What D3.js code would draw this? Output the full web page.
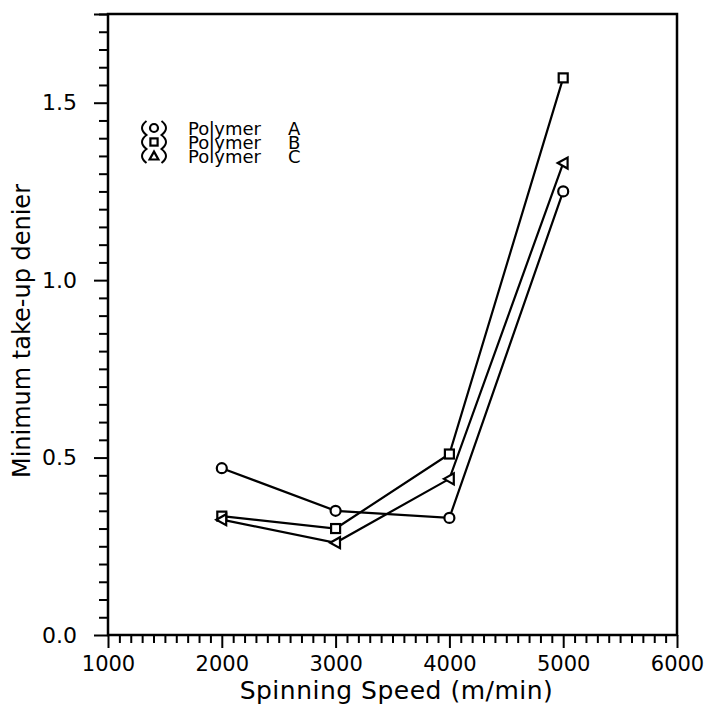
<!DOCTYPE html>
<html>
<head>
<meta charset="utf-8">
<script src="https://cdn.jsdelivr.net/npm/d3@7"></script>
<style>
  body { margin: 0; background: #fff; }
  svg { display: block; }
  text { font-family: "DejaVu Sans", sans-serif; fill: #000; }
</style>
</head>
<body>
<svg id="chart" width="707" height="705"></svg>
<script>
// values
const speeds = [2000, 3000, 4000, 5000];
const polymerA = [0.47, 0.35, 0.33, 1.25];
const polymerB = [0.335, 0.30, 0.51, 1.57];
const polymerC = [0.325, 0.26, 0.44, 1.33];
const seriesNames = ["Polymer A", "Polymer B", "Polymer C"];
const seriesLetters = ["A", "B", "C"];
const seriesShapes = ["circle", "square", "triangle"];
const xMajorTicks = [1000, 2000, 3000, 4000, 5000, 6000];
const yMajorTicks = [0.0, 0.5, 1.0, 1.5];

const svg = d3.select("#chart");

const plotLeft = 108, plotRight = 677, plotTop = 14, plotBottom = 635;

const x = d3.scaleLinear().domain([1000, 6000]).range([plotLeft, plotRight]);
const y = d3.scaleLinear().domain([0, 1.75]).range([plotBottom, plotTop]);

// minor tick positions (100 m/min, 0.05 denier)
const xMinor = d3.range(1000, 6001, 100).filter(v => v % 1000 !== 0);
const yMinor = d3.range(0, 36).map(i => +(i * 0.05).toFixed(2)).filter(v => Math.round(v * 100) % 50 !== 0);

function styleAxis(g) {
  g.select(".domain").remove();
  g.selectAll(".tick line").attr("stroke", "#000").attr("stroke-width", 2);
}

svg.append("g")
   .attr("transform", `translate(0, ${plotBottom})`)
   .call(d3.axisBottom(x).tickValues(xMinor).tickSize(8).tickFormat(""))
   .call(styleAxis);

svg.append("g")
   .attr("transform", `translate(0, ${plotBottom})`)
   .call(d3.axisBottom(x).tickValues(xMajorTicks).tickSize(13).tickPadding(8).tickFormat(d3.format("d")))
   .call(styleAxis)
   .call(g => g.selectAll(".tick text")
               .attr("font-size", 21)
               .attr("font-family", "DejaVu Sans")
               .attr("fill", "#000"));

svg.append("g")
   .attr("transform", `translate(${plotLeft}, 0)`)
   .call(d3.axisLeft(y).tickValues(yMinor).tickSize(9).tickFormat(""))
   .call(styleAxis);

svg.append("g")
   .attr("transform", `translate(${plotLeft}, 0)`)
   .call(d3.axisLeft(y).tickValues(yMajorTicks.concat([1.75])).tickSize(14).tickPadding(17)
           .tickFormat(d => d === 1.75 ? "" : d3.format(".1f")(d)))
   .call(styleAxis)
   .call(g => g.selectAll(".tick text")
               .attr("font-size", 22)
               .attr("font-family", "DejaVu Sans")
               .attr("fill", "#000"));

// frame
svg.append("rect")
   .attr("x", plotLeft)
   .attr("y", plotTop)
   .attr("width", plotRight - plotLeft)
   .attr("height", plotBottom - plotTop)
   .attr("fill", "none")
   .attr("stroke", "#000")
   .attr("stroke-width", 2.5);

// axis titles
svg.append("text")
   .attr("x", (plotLeft + plotRight) / 2 + 4)
   .attr("y", 699)
   .attr("text-anchor", "middle")
   .attr("font-size", 25)
   .attr("letter-spacing", 0.5)
   .text("Spinning Speed (m/min)");

svg.append("text")
   .attr("transform", "translate(30, 331) rotate(-90)")
   .attr("text-anchor", "middle")
   .attr("font-size", 24)
   .text("Minimum take-up denier");

function drawMarker(g, shape, cx, cy, pointLeft, k) {
  if (shape === "circle") {
    g.append("circle").attr("cx", cx).attr("cy", cy).attr("r", 5 * k)
     .attr("fill", "#fff").attr("stroke", "#000").attr("stroke-width", 2.2);
  } else if (shape === "square") {
    const h = 4.5 * k;
    g.append("rect").attr("x", cx - h).attr("y", cy - h).attr("width", 2 * h).attr("height", 2 * h)
     .attr("fill", "#fff").attr("stroke", "#000").attr("stroke-width", 2.2);
  } else {
    const s = 5.5 * k;
    const pts = pointLeft
      ? [[cx - s, cy], [cx + s * 0.8, cy - s], [cx + s * 0.8, cy + s]]
      : [[cx, cy - s], [cx - s, cy + s * 0.8], [cx + s, cy + s * 0.8]];
    g.append("path").attr("d", "M" + pts.join("L") + "Z")
     .attr("fill", "#fff").attr("stroke", "#000").attr("stroke-width", 2.2)
     .attr("stroke-linejoin", "miter");
  }
}

const allSeries = [polymerA, polymerB, polymerC];
const line = d3.line().x(d => x(d[0])).y(d => y(d[1]));

allSeries.forEach((vals, i) => {
  const pts = speeds.map((s, j) => [s, vals[j]]);
  svg.append("path")
     .attr("d", line(pts))
     .attr("fill", "none")
     .attr("stroke", "#000")
     .attr("stroke-width", 2.2);
});

allSeries.forEach((vals, i) => {
  const g = svg.append("g");
  speeds.forEach((s, j) => drawMarker(g, seriesShapes[i], x(s), y(vals[j]), true, 1));
});

// legend
const legend = svg.append("g");
const rowY = [128, 142, 156];
const markX = 154;

function bracePath(xEdge, bulge) {
  let d = "";
  rowY.forEach((cy, i) => {
    const y0 = cy - 7, y1 = cy + 7;
    d += (i === 0 ? "M" : "L") + xEdge + "," + y0;
    d += "Q" + (xEdge + bulge) + "," + cy + " " + xEdge + "," + y1;
  });
  return d;
}

legend.append("path").attr("d", bracePath(146.5, -9))
      .attr("fill", "none").attr("stroke", "#000").attr("stroke-width", 2);
legend.append("path").attr("d", bracePath(161.5, 9))
      .attr("fill", "none").attr("stroke", "#000").attr("stroke-width", 2);

seriesNames.forEach((name, i) => {
  drawMarker(legend, seriesShapes[i], markX, rowY[i], false, 0.8);
  legend.append("text")
        .attr("x", 188)
        .attr("y", rowY[i] + 6.5)
        .attr("font-size", 18)
        .text(name.split(" ")[0]);
  legend.append("text")
        .attr("x", 288)
        .attr("y", rowY[i] + 6.5)
        .attr("font-size", 18)
        .text(seriesLetters[i]);
});
</script>
</body>
</html>
